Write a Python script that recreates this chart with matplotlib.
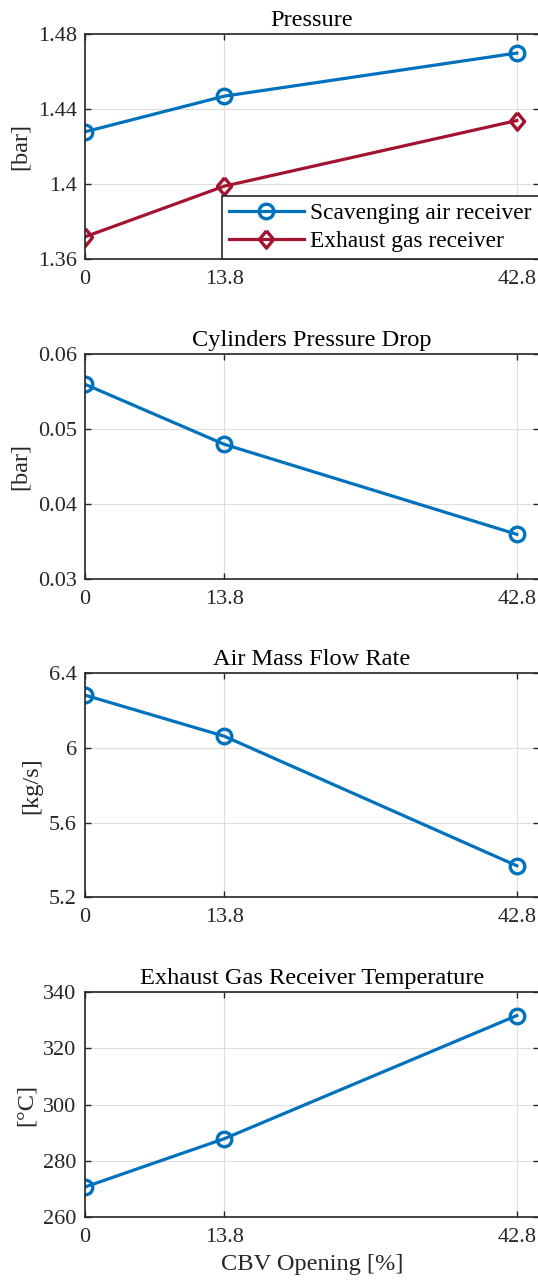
import numpy as np
import matplotlib
matplotlib.use("Agg")
import matplotlib.pyplot as plt

# data
cbv_opening = [0, 13.8, 42.8]
scav_pressure = [1.428, 1.447, 1.470]
exh_pressure = [1.372, 1.399, 1.434]
pressure_drop = [0.056, 0.048, 0.036]
air_flow = [6.283, 6.063, 5.369]
exh_temp = [270.6, 287.8, 331.7]

titles = ["Pressure", "Cylinders Pressure Drop", "Air Mass Flow Rate",
          "Exhaust Gas Receiver Temperature"]
ylabels = ["[bar]", "[bar]", "[kg/s]", "[\u00b0C]"]
yticks = [[1.36, 1.40, 1.44, 1.48], [0.03, 0.04, 0.05, 0.06],
          [5.2, 5.6, 6.0, 6.4], [260, 280, 300, 320, 340]]
yticklabels = [["1.36", "1.4", "1.44", "1.48"], ["0.03", "0.04", "0.05", "0.06"],
               ["5.2", "5.6", "6", "6.4"], ["260", "280", "300", "320", "340"]]
xticklabels = ["0", "13.8", "42.8"]

BLUE = "#0072BD"
RED = "#A2142F"
AXC = "#262626"

plt.rcParams["font.family"] = ["Liberation Serif", "DejaVu Serif"]

# MATLAB-like tall diamond
diamond = [(0, 1), (0.82, 0), (0, -1), (-0.82, 0), (0, 1)]

W, H = 538, 1286
fig = plt.figure(figsize=(W / 100, H / 100), dpi=100)

# axes boxes in pixels (left, top, right, bottom); right edge runs off the figure
boxes = [(85, 34.3, 539, 259.3), (85, 354.3, 539, 579.3),
         (85, 673.3, 539, 897.3), (85, 992.3, 539, 1216.7)]
series = [None, pressure_drop, air_flow, exh_temp]

for i, (l, t, r, b) in enumerate(boxes):
    ax = fig.add_axes([l / W, 1 - b / H, (r - l) / W, (b - t) / H])
    line_kw = dict(lw=2.3, ms=10.5, mew=2.4, mfc="none")
    if i == 0:
        ax.plot(cbv_opening, scav_pressure, "-", marker="o", color=BLUE,
                label="Scavenging air receiver", **line_kw)
        ax.plot(cbv_opening, exh_pressure, "-", marker=diamond, color=RED,
                label="Exhaust gas receiver", **dict(line_kw, ms=12.5))
        leg = ax.legend(loc="lower right", borderaxespad=0, fancybox=False,
                        edgecolor=AXC, fontsize=16.8, handlelength=3.2,
                        borderpad=0.3, labelspacing=0.28, handletextpad=0.3,
                        framealpha=1)
        leg.get_frame().set_linewidth(1.2)
    else:
        ax.plot(cbv_opening, series[i], "-", marker="o", color=BLUE, **line_kw)

    ax.set_xlim(0, 45)
    ax.set_ylim(yticks[i][0], yticks[i][-1])
    ax.set_xticks(cbv_opening)
    ax.set_xticklabels(xticklabels)
    ax.set_yticks(yticks[i])
    ax.set_yticklabels(yticklabels[i])
    ax.grid(True, color="#dedede", lw=0.8)
    ax.set_axisbelow(True)
    ax.tick_params(direction="in", top=True, right=True, labelsize=16,
                   length=4, width=1, colors=AXC)
    ax.tick_params(axis="y", pad=6)
    ax.tick_params(axis="x", pad=8)
    for sp in ax.spines.values():
        sp.set_linewidth(1.2)
        sp.set_color(AXC)
    ax.set_title(titles[i], fontsize=17.6, pad=6)
    ax.set_ylabel(ylabels[i], fontsize=17.6, labelpad=5, color=AXC)

ax.set_xlabel("CBV Opening [%]", fontsize=17.6, labelpad=5, color=AXC)

fig.savefig("out.png", dpi=100)
